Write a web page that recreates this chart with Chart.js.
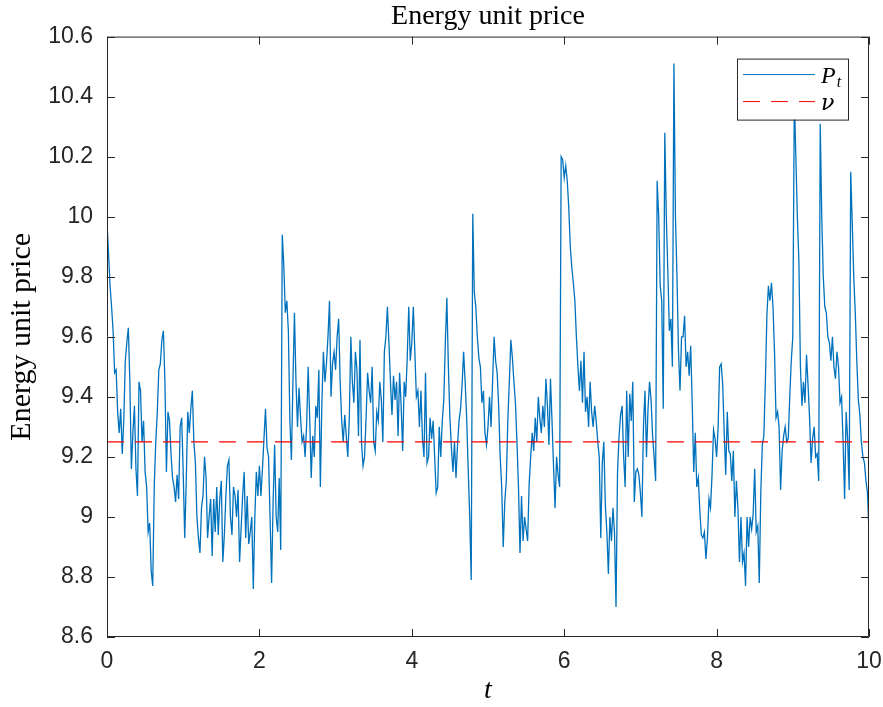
<!DOCTYPE html>
<html>
<head>
<meta charset="utf-8">
<title>Energy unit price</title>
<script src="https://cdn.jsdelivr.net/npm/chart.js@4.4.1/dist/chart.umd.min.js"></script>
<style>
    html, body { margin: 0; padding: 0; background: #fff; }
    #wrap { width: 883px; height: 707px; }
</style>
</head>
<body>
<div id="wrap"><canvas id="priceChart" width="883" height="707"></canvas></div>
<script>
// Energy unit price path P_t, every dt = 0.02
const DT = 0.02;

const pricesT0to2 = [
    9.98, 9.88, 9.77, 9.70, 9.62, 9.48, 9.49, 9.35, 9.28, 9.36,
    9.21, 9.32, 9.52, 9.58, 9.63, 9.45, 9.16, 9.28, 9.37, 9.16,
    9.07, 9.45, 9.42, 9.25, 9.32, 9.15, 9.10, 8.95, 8.98, 8.82,
    8.77, 9.10, 9.25, 9.35, 9.49, 9.51, 9.59, 9.62, 9.45, 9.15,
    9.35, 9.32, 9.21, 9.13, 9.10, 9.05, 9.14, 9.06, 9.30, 9.33,
    9.15, 8.93, 9.12, 9.35, 9.28, 9.36, 9.42, 9.25, 9.18, 9.00,
    8.93, 8.88, 9.03, 9.07, 9.20, 9.13, 8.93, 9.00, 9.06, 8.87,
    9.06, 8.95, 9.10, 8.94, 9.06, 9.12, 8.85, 8.94, 9.07, 9.17,
    9.19, 9.00, 8.94, 9.10, 9.07, 9.00, 9.09, 8.85, 8.96, 9.07,
    9.15, 8.93, 9.07, 8.91, 8.95, 9.00, 8.76, 9.00, 9.15, 9.07
];
const pricesT2to4 = [
    9.17, 9.07, 9.16, 9.26, 9.36, 9.23, 9.20, 9.00, 8.78, 9.05,
    9.24, 9.00, 8.95, 9.13, 8.89, 9.94, 9.84, 9.68, 9.72, 9.62,
    9.32, 9.19, 9.45, 9.68, 9.45, 9.30, 9.43, 9.33, 9.25, 9.27,
    9.20, 9.31, 9.50, 9.33, 9.13, 9.27, 9.20, 9.37, 9.33, 9.49,
    9.10, 9.38, 9.55, 9.45, 9.51, 9.60, 9.72, 9.40, 9.51, 9.55,
    9.49, 9.60, 9.66, 9.45, 9.32, 9.25, 9.34, 9.27, 9.20, 9.33,
    9.60, 9.45, 9.38, 9.55, 9.49, 9.27, 9.59, 9.25, 9.17, 9.20,
    9.33, 9.48, 9.42, 9.38, 9.50, 9.25, 9.22, 9.35, 9.32, 9.45,
    9.39, 9.25, 9.55, 9.60, 9.70, 9.58, 9.45, 9.34, 9.47, 9.39,
    9.45, 9.27, 9.48, 9.37, 9.22, 9.45, 9.40, 9.53, 9.70, 9.52
];
const pricesT4to6 = [
    9.58, 9.70, 9.55, 9.40, 9.42, 9.30, 9.42, 9.26, 9.20, 9.48,
    9.18, 9.20, 9.33, 9.26, 9.32, 9.20, 9.08, 9.10, 9.30, 9.20,
    9.32, 9.39, 9.58, 9.73, 9.50, 9.33, 9.23, 9.15, 9.25, 9.13,
    9.24, 9.32, 9.36, 9.44, 9.55, 9.45, 9.33, 9.16, 9.00, 8.79,
    10.01, 9.75, 9.70, 9.60, 9.53, 9.50, 9.38, 9.42, 9.28, 9.24,
    9.30, 9.40, 9.30, 9.45, 9.60, 9.52, 9.48, 9.37, 9.20, 9.10,
    8.90, 9.05, 9.12, 9.32, 9.45, 9.59, 9.53, 9.45, 9.38, 9.25,
    9.10, 8.88, 9.07, 8.92, 9.00, 8.96, 8.92, 9.11, 9.20, 9.28,
    9.22, 9.33, 9.25, 9.40, 9.33, 9.28, 9.37, 9.30, 9.46, 9.37,
    9.24, 9.46, 9.32, 9.17, 9.03, 9.20, 9.14, 9.10, 10.20, 10.19
];
const pricesT6to8 = [
    10.13, 10.17, 10.12, 10.03, 9.90, 9.83, 9.78, 9.72, 9.60, 9.50,
    9.42, 9.52, 9.38, 9.55, 9.35, 9.40, 9.30, 9.45, 9.35, 9.30,
    9.37, 9.32, 9.25, 9.20, 8.93, 9.18, 9.25, 9.04, 8.95, 8.81,
    9.00, 8.92, 9.03, 8.95, 8.70, 9.15, 9.27, 9.34, 9.37, 9.20,
    9.10, 9.42, 9.20, 9.41, 9.32, 9.45, 9.05, 9.15, 9.16, 9.14,
    9.08, 9.00, 9.30, 9.42, 9.20, 9.36, 9.45, 9.39, 9.27, 9.20,
    9.12, 10.12, 10.00, 9.77, 9.72, 9.36, 10.28, 10.00, 9.82, 9.62,
    9.66, 9.50, 10.51, 10.00, 9.80, 9.55, 9.42, 9.60, 9.60, 9.67,
    9.50, 9.55, 9.47, 9.57, 9.38, 9.15, 9.28, 9.10, 9.13, 9.02,
    8.94, 8.93, 8.95, 8.86, 8.93, 9.06, 9.03, 9.14, 9.29, 9.26
];
const pricesT8to10 = [
    9.20, 9.30, 9.50, 9.51, 9.44, 9.28, 9.14, 9.35, 9.22, 9.21,
    9.12, 9.22, 9.00, 9.12, 9.03, 8.85, 9.00, 8.85, 8.88, 8.77,
    9.00, 8.90, 9.00, 8.96, 9.01, 9.16, 8.95, 8.97, 8.78, 9.08,
    9.24, 9.27, 9.45, 9.67, 9.77, 9.72, 9.78, 9.70, 9.55, 9.33,
    9.35, 9.30, 9.09, 9.22, 9.27, 9.30, 9.25, 9.26, 9.40, 9.52,
    9.60, 10.40, 10.20, 10.00, 9.85, 9.50, 9.37, 9.45, 9.38, 9.54,
    9.44, 9.33, 9.18, 9.26, 9.30, 9.20, 9.21, 9.12, 10.31, 10.00,
    9.80, 9.70, 9.68, 9.60, 9.58, 9.52, 9.60, 9.50, 9.46, 9.55,
    9.50, 9.38, 9.40, 9.25, 9.06, 9.35, 9.26, 9.09, 10.15, 9.98,
    9.80, 9.68, 9.52, 9.39, 9.34, 9.25, 9.20, 9.18, 9.12, 9.08,
    8.95
];

// long-run mean level nu
const NU = 9.25;
const T_RANGE = [0, 10];

const xTicks = [0, 2, 4, 6, 8, 10];
const yTicks = [8.6, 8.8, 9, 9.2, 9.4, 9.6, 9.8, 10, 10.2, 10.4, 10.6];

const BLUE = '#0072BD';
const RED = '#FF0000';
const AXIS = '#262626';

const prices = [].concat(pricesT0to2, pricesT2to4, pricesT4to6, pricesT6to8, pricesT8to10);
const pricePoints = prices.map((p, i) => ({ x: i * DT, y: p }));
const nuPoints = T_RANGE.map(t => ({ x: t, y: NU }));

// MATLAB-like box with inward ticks on all four sides
const axesBox = {
    id: 'axesBox',
    afterDatasetsDraw(chart) {
        const { ctx, chartArea: a, scales } = chart;
        const len = 8;
        ctx.save();
        ctx.strokeStyle = AXIS;
        ctx.lineWidth = 1;
        ctx.beginPath();
        scales.x.ticks.forEach(t => {
            const px = Math.round(scales.x.getPixelForValue(t.value)) + 0.5;
            ctx.moveTo(px, a.bottom);
            ctx.lineTo(px, a.bottom - len);
            ctx.moveTo(px, a.top);
            ctx.lineTo(px, a.top + len);
        });
        scales.y.ticks.forEach(t => {
            const py = Math.round(scales.y.getPixelForValue(t.value)) + 0.5;
            ctx.moveTo(a.left, py);
            ctx.lineTo(a.left + len, py);
            ctx.moveTo(a.right, py);
            ctx.lineTo(a.right - len, py);
        });
        ctx.rect(a.left + 0.5, a.top + 0.5, a.right - a.left - 1, a.bottom - a.top - 1);
        ctx.stroke();
        ctx.restore();
    }
};

// legend drawn inside the axes (top right), like MATLAB's 'northeast'
const insideLegend = {
    id: 'insideLegend',
    afterDraw(chart) {
        const { ctx, chartArea: a } = chart;
        const w = 111, h = 61;
        const left = a.right - 21 - w;
        const top = a.top + 22;
        ctx.save();
        ctx.fillStyle = '#fff';
        ctx.fillRect(left, top, w, h);
        ctx.strokeStyle = AXIS;
        ctx.lineWidth = 1;
        ctx.strokeRect(left + 0.5, top + 0.5, w, h);

        chart.data.datasets.forEach((ds, i) => {
            const yy = top + 16 + i * 27;
            ctx.beginPath();
            ctx.setLineDash(ds.borderDash || []);
            ctx.strokeStyle = ds.borderColor;
            ctx.lineWidth = 1;
            ctx.moveTo(left + 6, yy);
            ctx.lineTo(left + 78, yy);
            ctx.stroke();
            ctx.setLineDash([]);

            const [base, sub] = ds.label.split('_');
            ctx.fillStyle = '#000';
            ctx.textBaseline = 'alphabetic';
            ctx.textAlign = 'left';
            ctx.font = sub ? 'italic 24px "Liberation Serif"' : 'italic 22px "DejaVu Serif"';
            ctx.fillText(base, left + 84, yy + 8);
            if (sub) {
                const bw = ctx.measureText(base).width;
                ctx.font = 'italic 16px "Liberation Serif"';
                ctx.fillText(sub, left + 84 + bw + 1, yy + 12);
            }
        });
        ctx.restore();
    }
};

const serif = 'Liberation Serif';
const sans = 'Liberation Sans';

new Chart(document.getElementById('priceChart'), {
    type: 'line',
    data: {
        datasets: [
            {
                label: 'P_t',
                data: pricePoints,
                borderColor: BLUE,
                borderWidth: 1.3,
                pointRadius: 0,
                tension: 0,
                fill: false,
                order: 1
            },
            {
                label: 'ν',
                data: nuPoints,
                borderColor: RED,
                borderWidth: 1.2,
                borderDash: [17, 11],
                pointRadius: 0,
                fill: false,
                order: 0
            }
        ]
    },
    options: {
        responsive: false,
        animation: false,
        events: [],
        layout: { padding: { top: 0, right: 14, bottom: 0, left: 0 } },
        plugins: {
            legend: { display: false },
            tooltip: { enabled: false },
            title: {
                display: true,
                text: 'Energy unit price',
                fullSize: false,
                color: '#000',
                font: { family: serif, size: 28, weight: 'normal' },
                padding: { top: 0, bottom: 3 }
            }
        },
        scales: {
            x: {
                type: 'linear',
                min: T_RANGE[0],
                max: T_RANGE[1],
                afterBuildTicks: s => { s.ticks = xTicks.map(v => ({ value: v })); },
                afterFit: s => {
                    s.height = 70;
                    s.paddingLeft = 0;
                    s.paddingRight = 0;
                },
                grid: { display: false, drawTicks: false },
                border: { display: false },
                ticks: {
                    color: AXIS,
                    padding: 11,
                    maxRotation: 0,
                    font: { family: sans, size: 23 },
                    callback: v => String(v)
                },
                title: {
                    display: true,
                    text: 't',
                    color: '#000',
                    font: { family: serif, size: 28, style: 'italic' },
                    padding: { top: 0, bottom: 0 }
                }
            },
            y: {
                min: yTicks[0],
                max: yTicks[yTicks.length - 1],
                afterBuildTicks: s => { s.ticks = yTicks.map(v => ({ value: v })); },
                afterFit: s => { s.width = 107; },
                grid: { display: false, drawTicks: false },
                border: { display: false },
                ticks: {
                    color: AXIS,
                    padding: 14,
                    font: { family: sans, size: 23 },
                    callback: v => String(Number(v.toFixed(1)))
                },
                title: {
                    display: true,
                    text: 'Energy unit price',
                    color: '#000',
                    font: { family: serif, size: 30, weight: 'normal' },
                    padding: { top: 4, bottom: 0 }
                }
            }
        }
    },
    plugins: [axesBox, insideLegend]
});
</script>
</body>
</html>
